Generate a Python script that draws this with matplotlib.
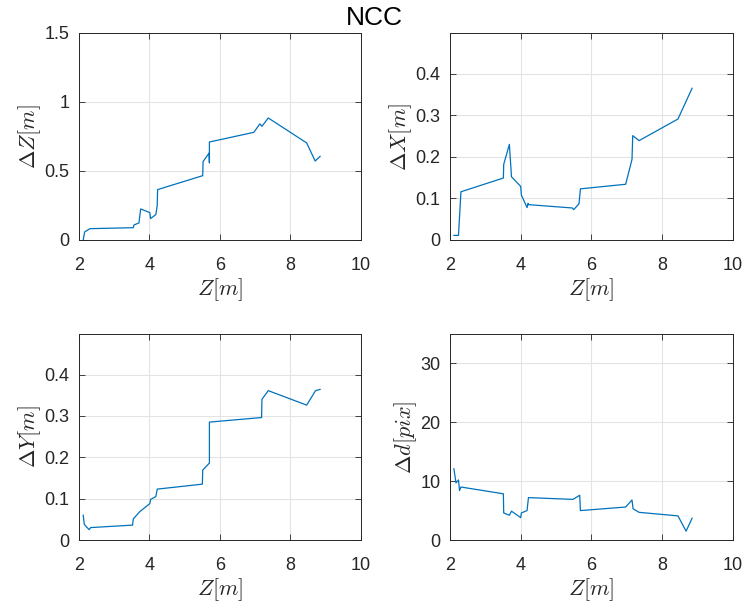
import matplotlib

matplotlib.use("Agg")
import matplotlib.pyplot as plt
from matplotlib.ticker import FuncFormatter

plt.rcParams["font.family"] = ["Liberation Sans", "DejaVu Sans"]
plt.rcParams["mathtext.fontset"] = "cm"

LINE_COLOR = "#0072BD"
AXIS_COLOR = "#262626"

# values
dz_z = [2.12, 2.16, 2.31, 3.54, 3.56, 3.70, 3.75, 4.01, 4.03, 4.18, 4.22, 4.23,
        5.51, 5.52, 5.69, 5.70, 5.70, 6.96, 7.13, 7.19, 7.37, 8.46, 8.70, 8.84]
dz_val = [0.0, 0.058, 0.082, 0.089, 0.109, 0.123, 0.225, 0.198, 0.155, 0.184, 0.251, 0.365,
          0.466, 0.568, 0.630, 0.558, 0.710, 0.780, 0.841, 0.824, 0.884, 0.703, 0.572, 0.606]

dx_z = [2.11, 2.24, 2.31, 3.51, 3.52, 3.68, 3.74, 4.00, 4.02, 4.18, 4.21, 4.22,
        5.46, 5.50, 5.65, 5.69, 6.97, 7.15, 7.17, 7.35, 8.45, 8.85]
dx_val = [0.011, 0.011, 0.116, 0.149, 0.182, 0.230, 0.152, 0.129, 0.108, 0.078, 0.088, 0.085,
          0.077, 0.073, 0.087, 0.123, 0.134, 0.194, 0.251, 0.239, 0.291, 0.365]

dy_z = [2.12, 2.15, 2.22, 2.29, 2.33, 3.52, 3.54, 3.73, 4.01, 4.03, 4.18, 4.22,
        5.50, 5.51, 5.70, 5.70, 7.18, 7.19, 7.37, 8.46, 8.71, 8.84]
dy_val = [0.060, 0.038, 0.031, 0.025, 0.030, 0.036, 0.051, 0.069, 0.088, 0.098, 0.105, 0.123,
          0.135, 0.169, 0.186, 0.285, 0.296, 0.340, 0.361, 0.326, 0.361, 0.364]

dd_z = [2.11, 2.17, 2.24, 2.27, 2.31, 3.51, 3.52, 3.68, 3.74, 4.00, 4.02, 4.18, 4.22,
        5.48, 5.67, 5.69, 6.97, 7.15, 7.18, 7.35, 8.45, 8.68, 8.85]
dd_val = [12.1, 9.7, 10.2, 8.4, 9.0, 7.85, 4.6, 4.2, 4.9, 3.8, 4.6, 5.0, 7.2,
          6.9, 7.6, 5.0, 5.6, 6.8, 5.3, 4.7, 4.1, 1.5, 3.7]

x_ticks = [2, 4, 6, 8, 10]


def style_axes(ax, ylim, yticks, ylabel):
    ax.set_xlim(2, 10)
    ax.set_ylim(*ylim)
    ax.set_xticks(x_ticks)
    ax.set_yticks(yticks)
    ax.yaxis.set_major_formatter(FuncFormatter(lambda v, _: f"{v:g}"))
    ax.grid(True, color="#e3e3e3", linewidth=0.8)
    ax.set_axisbelow(True)
    ax.tick_params(direction="in", top=True, right=True, length=4, width=0.6,
                   colors=AXIS_COLOR, labelsize=13)
    ax.tick_params(axis="x", pad=12)
    ax.tick_params(axis="y", pad=7)
    for spine in ax.spines.values():
        spine.set_color(AXIS_COLOR)
        spine.set_linewidth(0.7)
    ax.set_xlabel(r"$Z[m]$", fontsize=16, labelpad=2, color=AXIS_COLOR)
    ax.set_ylabel(ylabel, fontsize=16, labelpad=1, color=AXIS_COLOR)


fig = plt.figure(figsize=(7.48, 6.06), dpi=100)
ax1 = fig.add_axes([0.1056, 0.604, 0.377, 0.3416])
ax2 = fig.add_axes([0.6016, 0.604, 0.378, 0.3416])
ax3 = fig.add_axes([0.1056, 0.1089, 0.377, 0.340])
ax4 = fig.add_axes([0.6016, 0.1089, 0.378, 0.340])

ax1.plot(dz_z, dz_val, color=LINE_COLOR, linewidth=0.9)
style_axes(ax1, (0, 1.5), [0, 0.5, 1, 1.5], r"$\Delta Z[m]$")

ax2.plot(dx_z, dx_val, color=LINE_COLOR, linewidth=0.9)
style_axes(ax2, (0, 0.498), [0, 0.1, 0.2, 0.3, 0.4], r"$\Delta X[m]$")

ax3.plot(dy_z, dy_val, color=LINE_COLOR, linewidth=0.9)
style_axes(ax3, (0, 0.498), [0, 0.1, 0.2, 0.3, 0.4], r"$\Delta Y[m]$")

ax4.plot(dd_z, dd_val, color=LINE_COLOR, linewidth=0.9)
style_axes(ax4, (0, 35), [0, 10, 20, 30], r"$\Delta d[pix]$")

fig.text(0.5, 0.970, "NCC", ha="center", va="center", fontsize=19, color="black")

fig.savefig("out.png", dpi=100)
